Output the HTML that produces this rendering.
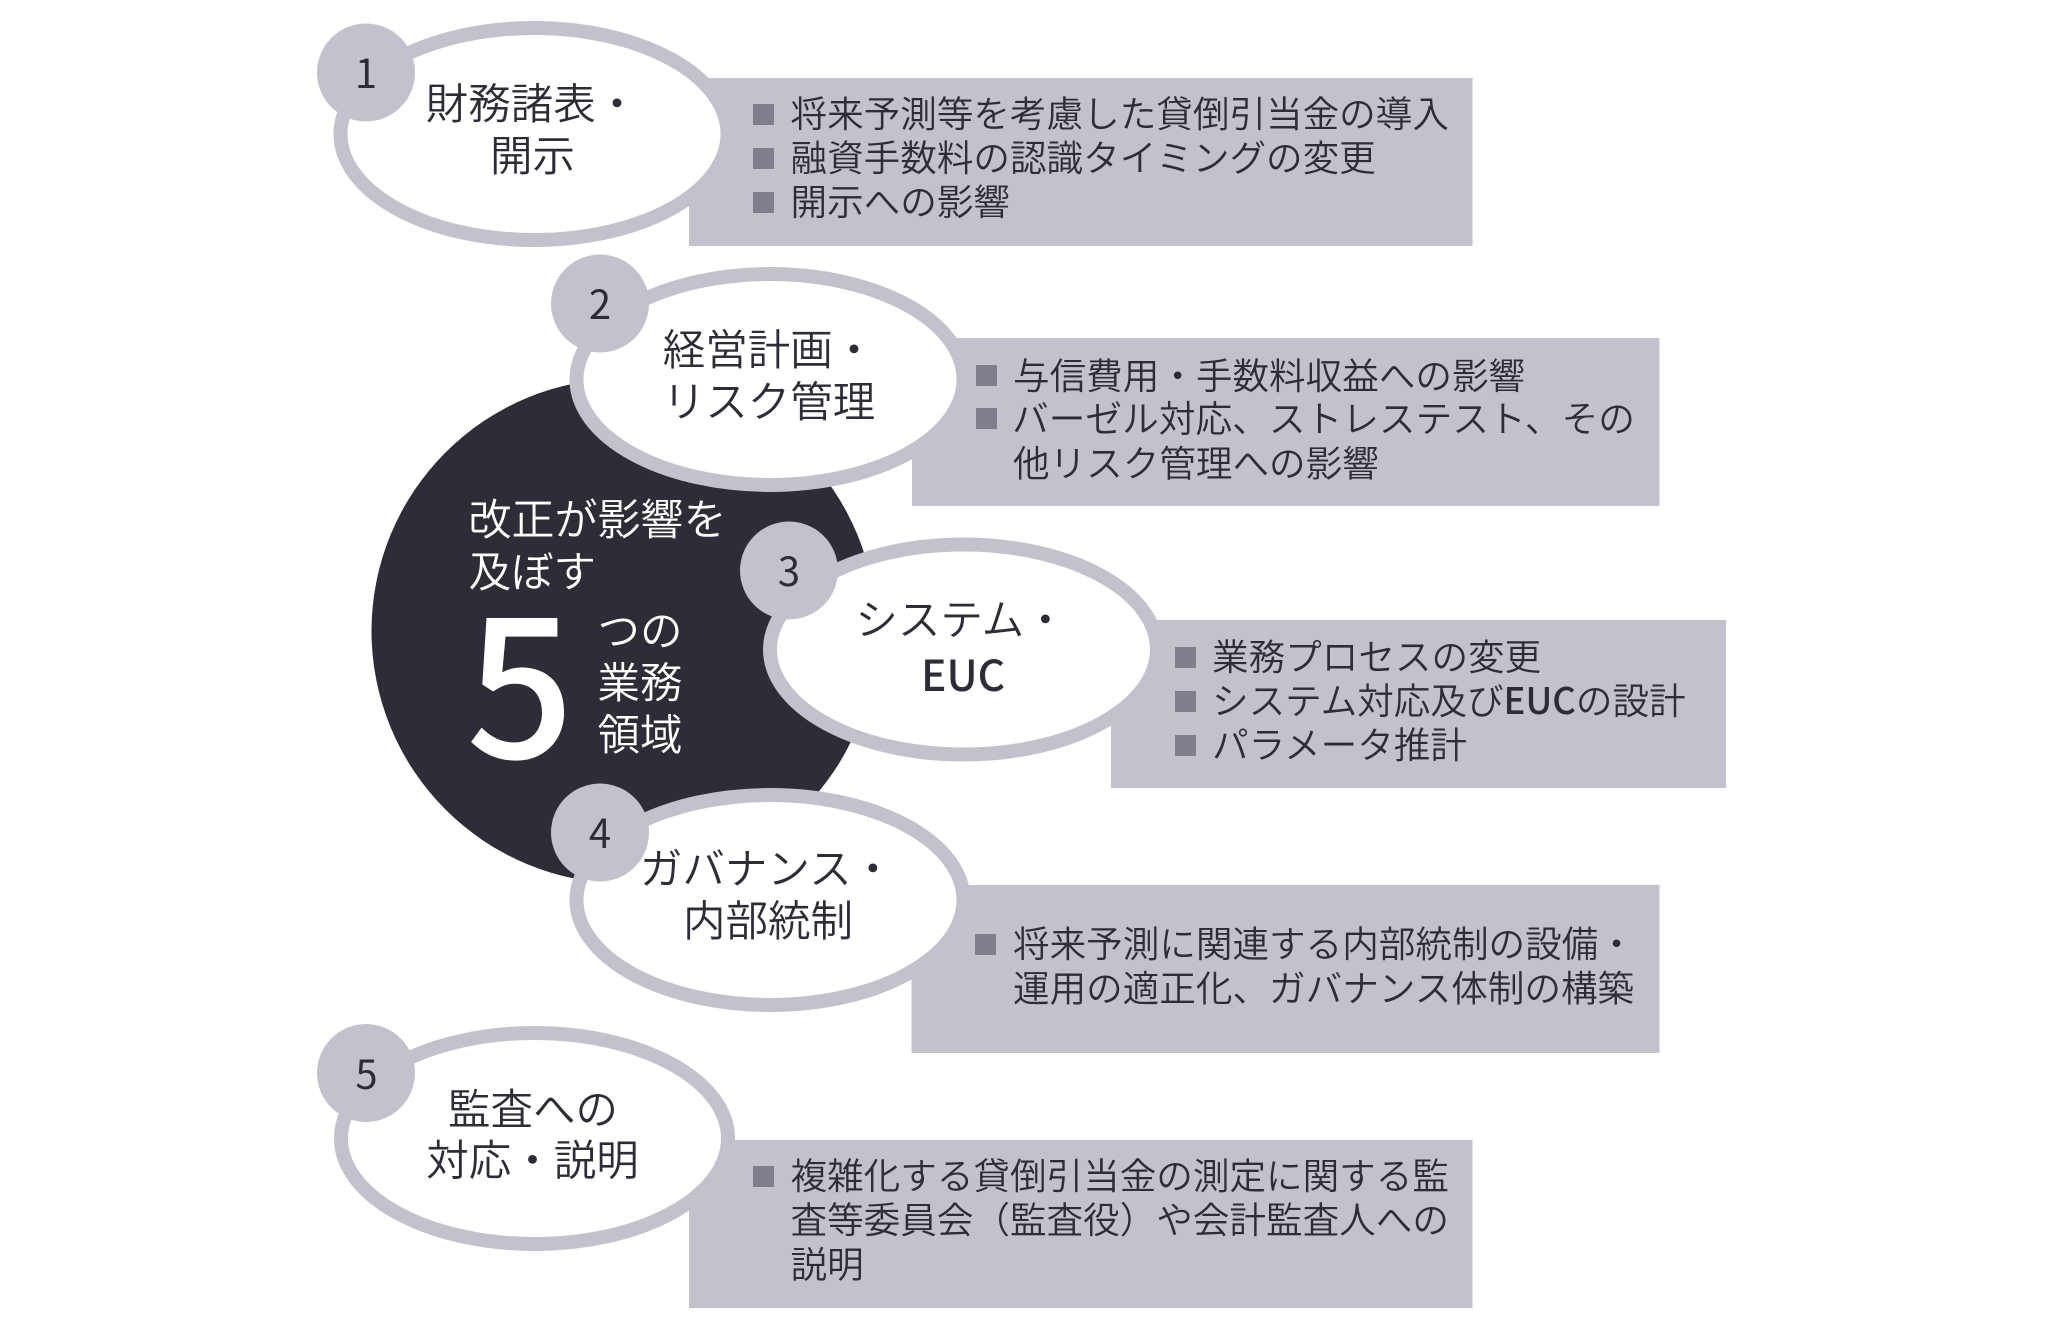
<!DOCTYPE html>
<html lang="ja">
<head>
<meta charset="utf-8">
<title>5つの業務領域</title>
<style>
html,body{margin:0;padding:0;background:#fff;}
svg{display:block;}
text{font-family:"Noto Sans CJK JP","Liberation Sans",sans-serif;font-weight:350;}
.b{font-size:36.6px;fill:#2d2d37;}
.l{font-size:42.5px;fill:#2d2d37;text-anchor:middle;}
.n{font-size:40px;fill:#2d2d37;text-anchor:middle;font-weight:400;}
.w{font-size:42.5px;fill:#fff;}
.box{fill:#c2c2cd;}
.sq{fill:#7f7f8b;}
.ring{fill:#fff;stroke:#c2c2cd;stroke-width:14;}
.bd{fill:#c2c2cd;}
</style>
</head>
<body>
<svg width="2048" height="1319" viewBox="0 0 2048 1319" xmlns="http://www.w3.org/2000/svg">
<rect width="2048" height="1319" fill="#fff"/>

<circle cx="624" cy="631" r="252.5" fill="#2d2d37"/>

<rect class="box" x="689" y="78" width="783.5" height="168"/>
<rect class="box" x="912" y="338" width="747.5" height="168"/>
<rect class="box" x="1111" y="620" width="615" height="168"/>
<rect class="box" x="911.5" y="885" width="748" height="168"/>
<rect class="box" x="689" y="1140" width="783.5" height="168"/>

<ellipse class="ring" cx="534" cy="134" rx="193.5" ry="106"/>
<ellipse class="ring" cx="770" cy="379.5" rx="193.5" ry="105.5"/>
<ellipse class="ring" cx="963.5" cy="649.5" rx="193.5" ry="105"/>
<ellipse class="ring" cx="770" cy="900" rx="193.5" ry="105"/>
<ellipse class="ring" cx="534.5" cy="1138.5" rx="193.5" ry="105.5"/>

<circle class="bd" cx="366" cy="72.5" r="49"/>
<circle class="bd" cx="600" cy="303.5" r="49"/>
<circle class="bd" cx="789" cy="570.5" r="49"/>
<circle class="bd" cx="600" cy="832.5" r="49"/>
<circle class="bd" cx="366" cy="1073" r="49"/>

<text class="n" x="366" y="88">1</text>
<text class="n" x="600" y="319">2</text>
<text class="n" x="789" y="586">3</text>
<text class="n" x="600" y="848">4</text>
<text class="n" x="366.5" y="1089">5</text>

<text class="l" x="532" y="119">財務諸表・</text>
<text class="l" x="532.5" y="171">開示</text>
<text class="l" x="769" y="365">経営計画・</text>
<text class="l" x="769" y="417">リスク管理</text>
<text class="l" x="961" y="635">システム・</text>
<text class="l" x="963" y="691" style="font-weight:500">EUC</text>
<text class="l" x="767" y="884">ガバナンス・</text>
<text class="l" x="768" y="936">内部統制</text>
<text class="l" x="533" y="1124.5">監査への</text>
<text class="l" x="532.5" y="1175.5">対応・説明</text>

<text class="w" x="468.5" y="535" style="font-size:43px">改正が影響を</text>
<text class="w" x="468.5" y="587">及ぼす</text>
<text x="466" y="758" style="font-size:190px;fill:#fff;font-weight:500;">5</text>
<text class="w" x="597.5" y="646">つの</text>
<text class="w" x="597.5" y="698">業務</text>
<text class="w" x="597.5" y="750">領域</text>

<rect class="sq" x="753" y="104" width="21" height="21"/>
<rect class="sq" x="753" y="148" width="21" height="21"/>
<rect class="sq" x="753" y="192" width="21" height="21"/>
<text class="b" x="790.5" y="127">将来予測等を考慮した貸倒引当金の導入</text>
<text class="b" x="790.5" y="171">融資手数料の認識タイミングの変更</text>
<text class="b" x="790.5" y="215">開示への影響</text>

<rect class="sq" x="976" y="365" width="21" height="21"/>
<rect class="sq" x="976" y="408" width="21" height="21"/>
<text class="b" x="1013" y="389">与信費用・手数料収益への影響</text>
<text class="b" x="1012" y="432" style="font-size:36.7px">バーゼル対応、ストレステスト、その</text>
<text class="b" x="1013" y="476.5">他リスク管理への影響</text>

<rect class="sq" x="1175" y="647" width="21" height="21"/>
<rect class="sq" x="1175" y="691" width="21" height="21"/>
<rect class="sq" x="1175" y="735" width="21" height="21"/>
<text class="b" x="1212" y="670">業務プロセスの変更</text>
<text class="b" x="1212" y="714">システム対応及び<tspan style="font-weight:500">EUC</tspan>の設計</text>
<text class="b" x="1212" y="758">パラメータ推計</text>

<rect class="sq" x="975" y="934" width="21" height="21"/>
<text class="b" x="1013" y="957">将来予測に関連する内部統制の設備・</text>
<text class="b" x="1013" y="1001.5">運用の適正化、ガバナンス体制の構築</text>

<rect class="sq" x="753" y="1166" width="21" height="21"/>
<text class="b" x="790.5" y="1189">複雑化する貸倒引当金の測定に関する監</text>
<text class="b" x="790.5" y="1233">査等委員会（監査役）や会計監査人への</text>
<text class="b" x="790.5" y="1277.5">説明</text>
</svg>
</body>
</html>
